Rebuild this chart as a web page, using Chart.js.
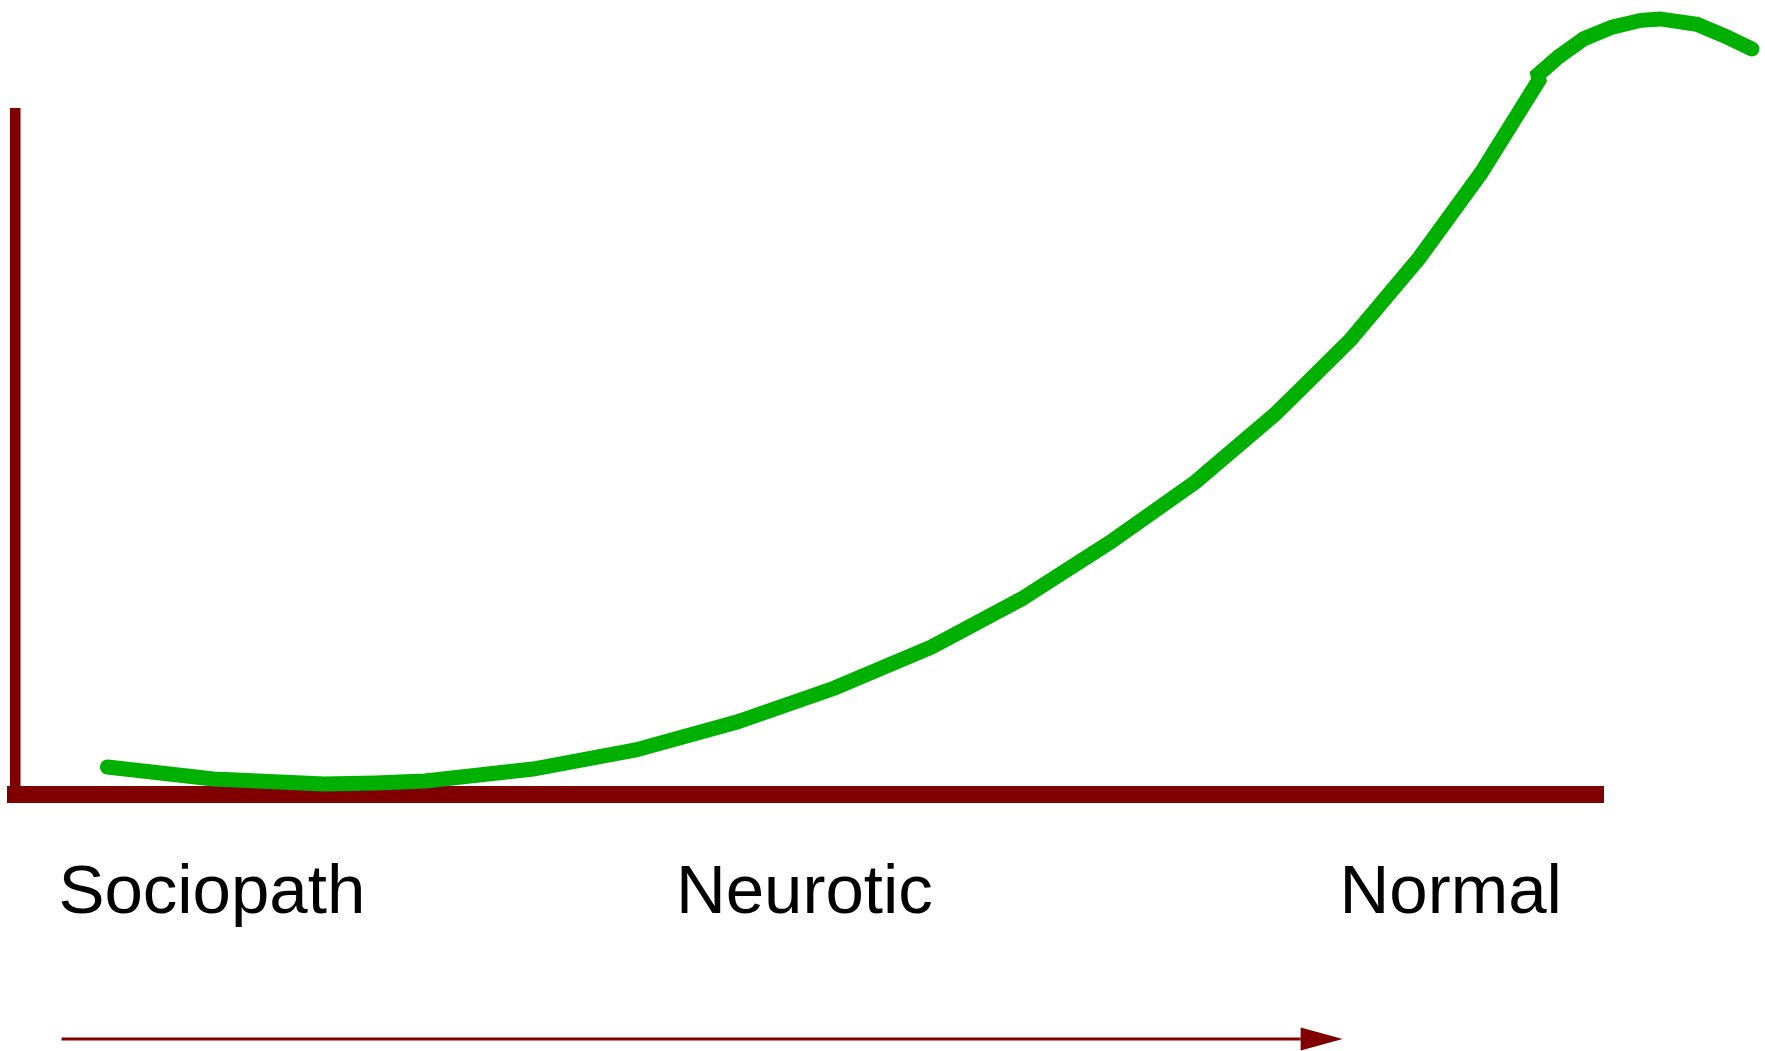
<!DOCTYPE html>
<html>
<head>
<meta charset="utf-8">
<script src="https://cdn.jsdelivr.net/npm/chart.js@4"></script>
<style>
  html, body { margin: 0; padding: 0; background: #fff; }
  #wrap { width: 1765px; height: 1051px; position: relative; }
</style>
</head>
<body>
<div id="wrap"><canvas id="curve"></canvas></div>
<script>
// curve samples (x: 0 = vertical axis, 100 = end of horizontal axis; y: 0 = baseline, 100 = top of vertical axis)
const traitX = [5.79, 12.46, 19.45, 22.66, 25.8, 32.6, 39.07, 45.44, 51.6, 57.71, 63.37,
                68.97, 74.32, 79.36, 84.08, 88.42, 92.32, 95.97, 95.9, 97.17, 98.8,
                100.57, 102.39, 103.59, 105.92, 107.68, 109.38];
const responseY = [4.04, 2.27, 1.54, 1.69, 1.98, 3.74, 6.53, 10.64, 15.63, 21.65, 28.69,
                   37.05, 45.85, 55.83, 66.69, 78.72, 91.19, 104.84, 105.6, 108.2, 110.9,
                   112.6, 113.6, 113.8, 113.0, 111.3, 109.4];

// tiers along the bottom
const tierLabels = ['Sociopath', 'Neurotic', 'Normal'];
const tierPos = [2.7, 41.6, 83.4];

// direction arrow under the labels
const arrowSpan = [2.9, 83.6];

const AXIS_RED = '#800000';
const CURVE_GREEN = '#00b000';

const arrowPlugin = {
  id: 'arrow',
  afterDraw(chart) {
    const xs = chart.scales.x;
    const ctx = chart.ctx;
    const x0 = xs.getPixelForValue(arrowSpan[0]);
    const x1 = xs.getPixelForValue(arrowSpan[1]);
    const y = xs.bottom - 12;
    const headLen = 42, headHalf = 11.5;
    ctx.save();
    ctx.strokeStyle = AXIS_RED;
    ctx.fillStyle = AXIS_RED;
    ctx.lineWidth = 3;
    ctx.beginPath();
    ctx.moveTo(x0, y);
    ctx.lineTo(x1 - headLen, y);
    ctx.stroke();
    ctx.beginPath();
    ctx.moveTo(x1 - headLen, y - headHalf);
    ctx.lineTo(x1, y);
    ctx.lineTo(x1 - headLen, y + headHalf);
    ctx.closePath();
    ctx.fill();
    ctx.restore();
  }
};

new Chart(document.getElementById('curve'), {
  type: 'scatter',
  data: {
    datasets: [{
      data: traitX.map((x, i) => ({ x, y: responseY[i] })),
      showLine: true,
      borderColor: CURVE_GREEN,
      borderWidth: 15,
      borderCapStyle: 'round',
      borderJoinStyle: 'miter',
      tension: 0,
      pointRadius: 0,
      clip: false,
    }],
  },
  options: {
    responsive: true,
    maintainAspectRatio: false,
    animation: false,
    events: [],
    layout: { padding: { top: 113, right: 162, left: 0, bottom: 0 } },
    plugins: { legend: { display: false }, tooltip: { enabled: false } },
    scales: {
      x: {
        type: 'linear',
        bounds: 'data',
        afterDataLimits: s => { s.min = 0; s.max = 100; },
        afterBuildTicks: s => { s.ticks = tierPos.map(v => ({ value: v })); },
        afterFit: s => { s.height = 256.5; },
        grid: { drawOnChartArea: false, drawTicks: false },
        border: { display: true, color: AXIS_RED, width: 17 },
        ticks: {
          autoSkip: false,
          maxRotation: 0,
          minRotation: 0,
          align: 'start',
          padding: 58,
          color: '#000',
          font: { family: '"Liberation Sans", Arial, sans-serif', size: 69 },
          callback: (v, i) => tierLabels[i],
        },
      },
      y: {
        type: 'linear',
        bounds: 'data',
        afterDataLimits: s => { s.min = 0; s.max = 100; },
        afterFit: s => { s.width = 14; },
        grid: { drawOnChartArea: false, drawTicks: false },
        border: { display: true, color: AXIS_RED, width: 10.5 },
        ticks: { display: false },
      },
    },
  },
  plugins: [arrowPlugin],
});
</script>
</body>
</html>
